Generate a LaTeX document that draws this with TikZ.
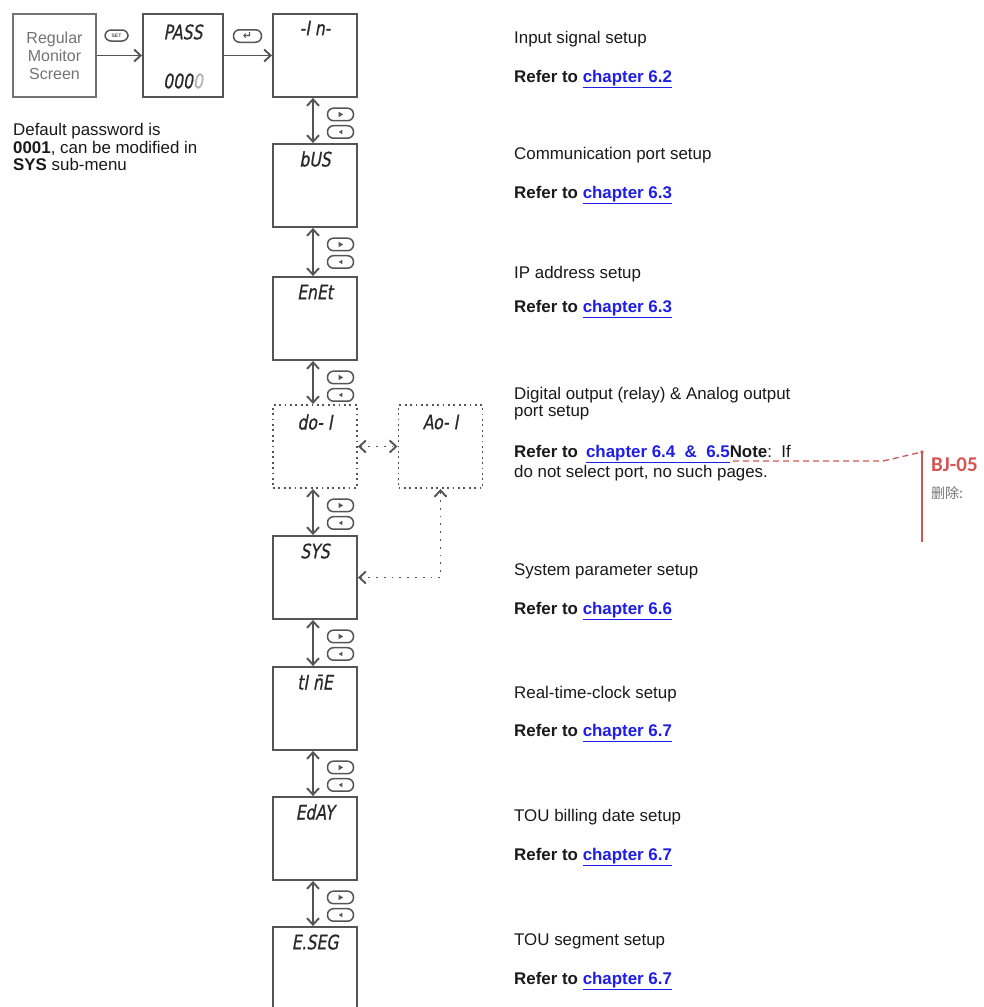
\documentclass[tikz,border=0pt]{standalone}
\usepackage{fontspec}
\setmainfont{Liberation Sans}
\newfontfamily\segfont{DejaVu Sans}[FakeSlant=0.18,FakeStretch=0.78,FakeBold=0.6]
\newfontfamily\cjkfont{Noto Sans CJK SC}
\newfontfamily\carlito{Carlito}
\newfontfamily\symfont{DejaVu Sans}
\usetikzlibrary{arrows.meta,calc}
\definecolor{boxgray}{RGB}{85,85,85}
\definecolor{seggray}{RGB}{40,40,40}
\definecolor{lgray}{RGB}{115,115,115}
\definecolor{linkblue}{RGB}{30,30,230}
\definecolor{notered}{RGB}{212,84,84}
\definecolor{txt}{RGB}{25,25,25}
\newcommand\chap[1]{\textcolor{linkblue}{\underline{#1}}}
\tikzset{
  lcd/.style={draw=boxgray, line width=1.9pt, minimum width=84pt, minimum height=83pt, inner sep=0pt},
  lcddot/.style={lcd, dash pattern=on 1.8pt off 3.6pt},
  seg/.style={font=\segfont\fontsize{20}{20}\selectfont, text=seggray, inner sep=0pt},
  pill/.style={draw=boxgray, line width=1.5pt, rounded corners=6pt, minimum width=26pt, minimum height=12.5pt, inner sep=0pt},
  barb/.tip={Straight Barb[length=6.5pt,width=12pt]},
  conn/.style={draw=boxgray, line width=1.9pt, -barb},
  dconn/.style={draw=boxgray, line width=1.9pt, barb-barb},
  dotconn/.style={dconn, dash pattern=on 1.8pt off 6pt},
  desc/.style={anchor=base west, font=\fontsize{16.9}{18}\selectfont, text=txt, inner sep=0pt},
  ref/.style={desc, font=\bfseries\fontsize{16.9}{18}\selectfont},
}
\newcommand\updn[2]{%
  \draw[dconn] ([xshift=-2pt]#1.south) -- ([xshift=-2pt]#2.north);
  \node[pill] (#1-nx) at ([xshift=25.5pt,yshift=-16.5pt]#1.south) {};
  \node[pill] (#1-pv) at ([xshift=25.5pt,yshift=-34pt]#1.south) {};
  \fill[boxgray] ([xshift=-2pt,yshift=2.8pt]#1-nx.center) -- ++(4.6pt,-2.8pt) -- ++(-4.6pt,-2.8pt) -- cycle;
  \fill[boxgray] ([xshift=1.8pt,yshift=2.2pt]#1-pv.center) -- ++(-3.6pt,-2.2pt) -- ++(3.6pt,-2.2pt) -- cycle;
}
\begin{document}
\begin{tikzpicture}[x=1pt,y=-1pt]
\useasboundingbox (0,0) rectangle (983,1007);
% top row
\node[lcd, draw=lgray, minimum width=83pt, align=center, font=\fontsize{16}{18}\selectfont, text=lgray] (reg) at (54.5,55.5) {Regular\\Monitor\\Screen};
\node[lcd, minimum width=80pt] (pass) at (183,55.5) {};
\node[seg] (pass-t) at (183,32) {PASS};
\node[seg] (pass-b) at (183,81) {000\textcolor{lgray!55}{0}};
\node[lcd] (In) at (315,55.5) {};
\node[seg] (In-t) at ([yshift=-15pt]In.north) {-I n-};
\node[pill, minimum width=23pt, minimum height=11pt, font=\fontsize{5}{5}\selectfont\bfseries, text=boxgray] (setbtn) at (116.5,35.5) {SET};
\node[pill, minimum width=28pt, font=\symfont\bfseries\fontsize{11}{11}\selectfont, text=boxgray] (entbtn) at (247.5,36) {↵};
\draw[conn] (reg.east) -- (pass.west);
\draw[conn] (pass.east) -- (In.west);
% note
\node[desc] (note1) at (13,135.5) {Default password is};
\node[desc] (note2) at (13,153) {\textbf{0001}, can be modified in};
\node[desc] (note3) at (13,170.5) {\textbf{SYS} sub-menu};
% column of screens
\node[lcd] (bus) at (315,185.5) {};
\node[seg] (bus-t) at ([yshift=-16pt]bus.north) {bUS};
\node[lcd] (enet) at (315,318.5) {};
\node[seg] (enet-t) at ([yshift=-16pt]enet.north) {EnEt};
\node[lcddot] (do) at (315,446.5) {};
\node[seg] (do-t) at ([yshift=-18pt]do.north) {do- I};
\node[lcddot] (ao) at (440.5,446.5) {};
\node[seg] (ao-t) at ([yshift=-18pt]ao.north) {Ao- I};
\node[lcd] (sys) at (315,577.5) {};
\node[seg] (sys-t) at ([yshift=-16pt]sys.north) {SYS};
\node[lcd] (time) at (315,708.5) {};
\node[seg] (time-t) at ([yshift=-16pt]time.north) {tI n̄E};
\node[lcd] (eday) at (315,838.5) {};
\node[seg] (eday-t) at ([yshift=-16pt]eday.north) {EdAY};
\node[lcd] (eseg) at (315,968.5) {};
\node[seg] (eseg-t) at ([yshift=-16pt]eseg.north) {E.SEG};
\updn{In}{bus}
\updn{bus}{enet}
\updn{enet}{do}
\updn{do}{sys}
\updn{sys}{time}
\updn{time}{eday}
\updn{eday}{eseg}
\draw[dotconn] (do.east) -- (ao.west);
\draw[dotconn] (sys.east) -| (ao.south);
% descriptions
\node[desc] (d1) at (514,43.5) {Input signal setup};
\node[ref] (r1) at (514,82.5) {Refer to \chap{chapter 6.2}};
\node[desc] (d2) at (514,159.5) {Communication port setup};
\node[ref] (r2) at (514,198.5) {Refer to \chap{chapter 6.3}};
\node[desc] (d3) at (514,278.5) {IP address setup};
\node[ref] (r3) at (514,312.5) {Refer to \chap{chapter 6.3}};
\node[desc] (d4a) at (514,399.5) {Digital output (relay) \& Analog output};
\node[desc] (d4b) at (514,416.5) {port setup};
\node[desc] (r4a) at (514,457.5) {\textbf{Refer to}\hspace{8pt}\chap{\textbf{chapter 6.4\ \ \&\ \ 6.5}}\textbf{Note}:\ \ If};
\node[desc] (r4b) at (514,477.5) {do not select port, no such pages.};
\node[desc] (d5) at (514,575.5) {System parameter setup};
\node[ref] (r5) at (514,614.5) {Refer to \chap{chapter 6.6}};
\node[desc] (d6) at (514,698.5) {Real-time-clock setup};
\node[ref] (r6) at (514,736.5) {Refer to \chap{chapter 6.7}};
\node[desc] (d7) at (514,821.5) {TOU billing date setup};
\node[ref] (r7) at (514,860.5) {Refer to \chap{chapter 6.7}};
\node[desc] (d8) at (514,945.5) {TOU segment setup};
\node[ref] (r8) at (514,984.5) {Refer to \chap{chapter 6.7}};
% review annotation
\coordinate (a1) at (733,461);
\coordinate (a2) at (883,461);
\coordinate (a3) at (922,452);
\coordinate (a4) at (922,542);
\draw[notered, line width=1.3pt, dash pattern=on 6pt off 4pt] (a1) -- (a2) -- (a3);
\draw[notered, line width=2.2pt] (a3) -- (a4);
\fill[notered] (a3) circle (1.8pt);
\node[anchor=west, inner sep=0pt, font=\carlito\bfseries\fontsize{21}{22}\selectfont, text=notered] (bj) at (931,465) {BJ-05};
\node[anchor=west, inner sep=0pt, font=\cjkfont\fontsize{14}{15}\selectfont, text=lgray] (del) at (931,493) {删除:};
\end{tikzpicture}
\end{document}
